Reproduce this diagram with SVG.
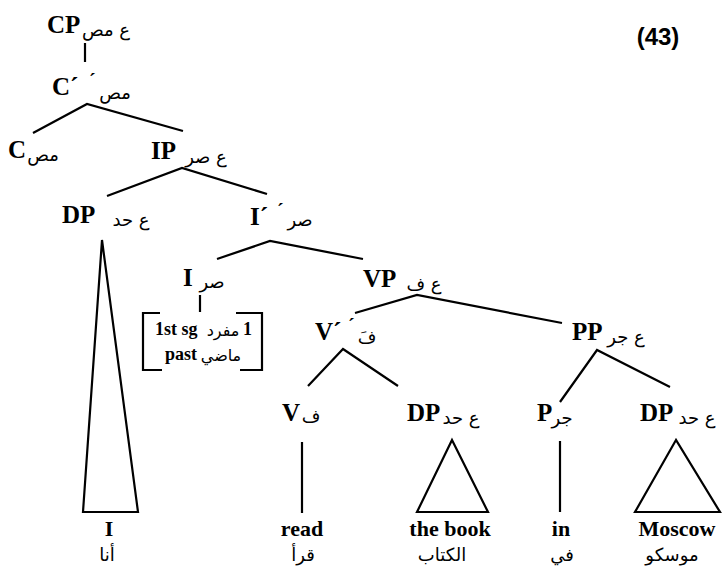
<svg xmlns="http://www.w3.org/2000/svg" width="725" height="569" viewBox="0 0 725 569">
<style>
.n{font-family:"Liberation Serif","Times New Roman",serif;font-weight:bold;font-size:25px;fill:#000}
.p{font-family:"Liberation Serif","Times New Roman",serif;font-weight:bold;font-size:20px;fill:#000}
.l{font-family:"Liberation Serif","Times New Roman",serif;font-weight:bold;font-size:22px;fill:#000;text-anchor:middle}
.f{font-family:"Liberation Serif","Times New Roman",serif;font-weight:bold;font-size:18px;fill:#000}
.a{font-family:"DejaVu Sans","Noto Sans",sans-serif;font-size:18px;fill:#000;text-anchor:middle}
.as{font-family:"DejaVu Sans","Noto Sans",sans-serif;font-size:16px;fill:#000;text-anchor:middle}
.al{font-family:"DejaVu Sans","Noto Sans",sans-serif;font-size:18px;fill:#000;text-anchor:middle}
.ln{stroke:#000;stroke-width:2.2;fill:none;stroke-linejoin:miter}
</style>
<rect width="725" height="569" fill="#fff"/>
<text x="658" y="45" style="font-family:'Liberation Sans',Arial,sans-serif;font-weight:bold;font-size:24px;text-anchor:middle">(43)</text>
<g id="connectors" class="ln">
<line x1="85" y1="43" x2="85" y2="62"/>
<polyline points="33,133 87,104 183,131"/>
<polyline points="107,196 182,168 267,194"/>
<polyline points="217,259 270,241 363,259"/>
<line x1="200" y1="295" x2="200" y2="312"/>
<polyline points="355,313 417,295 562,323"/>
<polyline points="308,386 343,349 398,386"/>
<polyline points="560,402 597,350 670,387"/>
<polygon points="102,240 83,512 138,512"/>
<line x1="302" y1="442" x2="302" y2="513"/>
<polygon points="452,440 417,512 488,512"/>
<line x1="560" y1="441" x2="560" y2="512"/>
<polygon points="676,440 635,512 720,512"/>
</g>
<g id="CP"><text class="n" x="47" y="33">CP</text><text class="a" x="106" y="36">ع مص</text></g>
<g id="Cbar"><text class="n" x="52" y="95">C´</text><text class="p" x="89" y="88">´</text><text class="a" x="115" y="99">مص</text></g>
<g id="C"><text class="n" x="8" y="158">C</text><text class="a" x="43" y="161">مص</text></g>
<g id="IP"><text class="n" x="151" y="159">IP</text><text class="a" x="206" y="163">ع صر</text></g>
<g id="DP1"><text class="n" x="62" y="223">DP</text><text class="a" x="131" y="226">ع حد</text></g>
<g id="Ibar"><text class="n" x="250" y="225">I´</text><text class="p" x="277" y="218">´</text><text class="a" x="300" y="226">صر</text></g>
<g id="I"><text class="n" x="183" y="286">I</text><text class="a" x="212" y="288">صر</text></g>
<g id="infl">
<path class="ln" d="M160,313 H143 V370 H162"/>
<path class="ln" d="M236,313 H262 V370 H240"/>
<text class="f" x="155" y="335">1st sg</text><text class="as" x="223" y="336">مفرد</text><text class="f" x="243" y="335">1</text>
<text class="f" x="165" y="360">past</text><text class="as" x="221" y="361">ماضي</text>
</g>
<g id="VP"><text class="n" x="363" y="287">VP</text><text class="a" x="424" y="290">ع ف</text></g>
<g id="Vbar"><text class="n" x="315" y="340">V´</text><text class="p" x="348" y="333">´</text><text class="a" x="367" y="343">فَ</text></g>
<g id="PP"><text class="n" x="572" y="340">PP</text><text class="a" x="626" y="343">ع جر</text></g>
<g id="V"><text class="n" x="282" y="421">V</text><text class="a" x="311" y="422">ف</text></g>
<g id="DP2"><text class="n" x="407" y="421">DP</text><text class="a" x="461" y="424">ع حد</text></g>
<g id="P"><text class="n" x="537" y="421">P</text><text class="a" x="562" y="424">جر</text></g>
<g id="DP3"><text class="n" x="640" y="421">DP</text><text class="a" x="697" y="424">ع حد</text></g>
<g id="leaves">
<text class="l" x="109" y="536">I</text><text class="al" x="107" y="561">أنا</text>
<text class="l" x="302" y="536">read</text><text class="al" x="303" y="561">قرأ</text>
<text class="l" x="450" y="536">the book</text><text class="al" x="442" y="561">الكتاب</text>
<text class="l" x="561" y="536">in</text><text class="al" x="562" y="561">في</text>
<text class="l" x="677" y="536">Moscow</text><text class="al" x="672" y="561">موسكو</text>
</g>
</svg>
